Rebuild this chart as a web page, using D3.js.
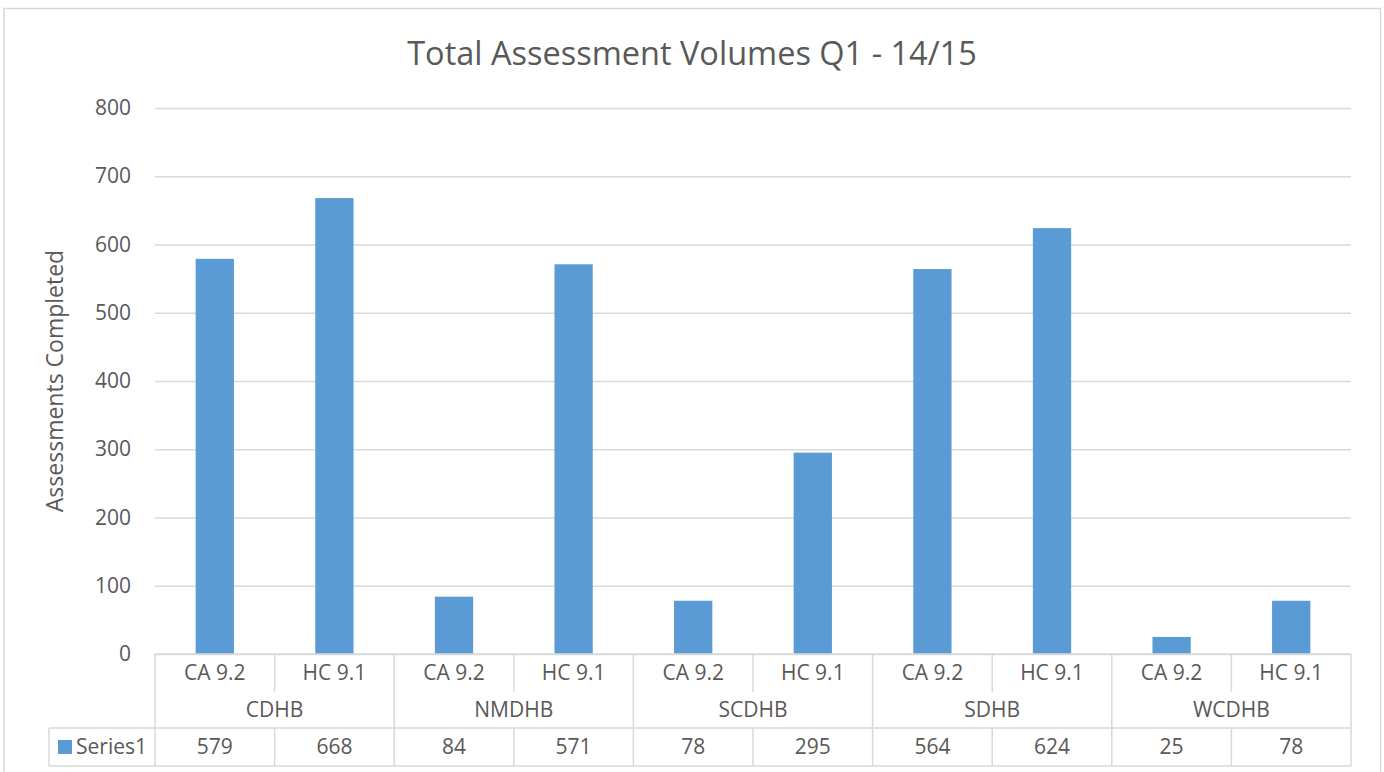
<!DOCTYPE html>
<html>
<head>
<meta charset="utf-8">
<script src="https://cdn.jsdelivr.net/npm/d3@7"></script>
<style>
  html, body { margin: 0; padding: 0; background: #fff; }
  text { font-family: "Open Sans", "Noto Sans", sans-serif; fill: #595959; }
</style>
</head>
<body>
<svg id="chart" width="1384" height="772"></svg>
<script>
// data
var groups = ['CDHB', 'NMDHB', 'SCDHB', 'SDHB', 'WCDHB'];
var subs = ['CA 9.2', 'HC 9.1'];
var series1 = [579, 668, 84, 571, 78, 295, 564, 624, 25, 78];
var yTicks = [0, 100, 200, 300, 400, 500, 600, 700, 800];

var title = 'Total Assessment Volumes Q1 - 14/15';
var yTitle = 'Assessments Completed';
var seriesName = 'Series1';

// layout (avoid "top" - it's window.top)
var plotL = 155, plotR = 1351, plotT = 108, plotB = 654;
var row1 = 692, row2 = 728, row3 = 766;
var lineCol = '#d9d9d9', barCol = '#5b9bd5';
var fs = '21px';

var svg = d3.select('#chart');

// outer chart border
svg.append('rect')
    .attr('x', 4).attr('y', 8.5)
    .attr('width', 1376.5).attr('height', 800)
    .attr('fill', 'none')
    .attr('stroke', lineCol)
    .attr('stroke-width', 1.5);

var rows = [];
groups.forEach((g, gi) => {
    subs.forEach((s, si) => {
        rows.push({ key: g + '|' + s, group: g, sub: s, value: series1[gi * subs.length + si] });
    });
});

var x = d3.scaleBand()
    .domain(rows.map((d) => d.key))
    .range([plotL, plotR])
    .paddingInner(0.68)
    .paddingOuter(0.34);

var xGroup = d3.scaleBand()
    .domain(groups)
    .range([plotL, plotR]);

var y = d3.scaleLinear().domain([0, 800]).range([plotB, plotT]);

// gridlines + y axis labels
var yAxis = d3.axisLeft(y)
    .tickValues(yTicks)
    .tickSize(-(plotR - plotL))
    .tickPadding(24);

var ga = svg.append('g')
    .attr('transform', `translate(${plotL},0)`)
    .call(yAxis);
ga.select('.domain').remove();
ga.selectAll('.tick line').attr('stroke', lineCol).attr('stroke-width', 1.5);
ga.selectAll('.tick text')
    .attr('fill', '#595959')
    .style('font-size', fs)
    .style('font-family', '"Open Sans", sans-serif');

// bars
svg.append('g').selectAll('rect')
    .data(rows)
    .join('rect')
    .attr('x', (d) => x(d.key))
    .attr('width', x.bandwidth())
    .attr('y', (d) => y(d.value))
    .attr('height', (d) => y(0) - y(d.value))
    .attr('fill', barCol);

// category table
var tbl = svg.append('g')
    .attr('stroke', lineCol)
    .attr('stroke-width', 1.5);

var step = x.step();
var cellLeft = (d) => x(d.key) - (step - x.bandwidth()) / 2;

// horizontal lines
tbl.append('line').attr('x1', plotL).attr('x2', plotR).attr('y1', plotB).attr('y2', plotB);
tbl.append('line').attr('x1', 49).attr('x2', plotR).attr('y1', row2).attr('y2', row2);
tbl.append('line').attr('x1', 49).attr('x2', plotR).attr('y1', row3).attr('y2', row3);

// group boundaries
groups.concat(['end']).forEach((g, i) => {
    var gx = i < groups.length ? xGroup(g) : plotR;
    tbl.append('line').attr('x1', gx).attr('x2', gx).attr('y1', plotB).attr('y2', row3);
});
// sub dividers inside groups
rows.forEach((d, i) => {
    if (i % subs.length === 0) return;
    var cx = cellLeft(d);
    tbl.append('line').attr('x1', cx).attr('x2', cx).attr('y1', plotB).attr('y2', row1);
    tbl.append('line').attr('x1', cx).attr('x2', cx).attr('y1', row2).attr('y2', row3);
});
// legend cell left edge
tbl.append('line').attr('x1', 49).attr('x2', 49).attr('y1', row2).attr('y2', row3);

// sub labels
svg.append('g').selectAll('text')
    .data(rows)
    .join('text')
    .attr('x', (d) => x(d.key) + x.bandwidth() / 2)
    .attr('y', (plotB + row1) / 2)
    .attr('dy', '0.35em')
    .attr('text-anchor', 'middle')
    .style('font-size', fs)
    .text((d) => d.sub);

// group labels
svg.append('g').selectAll('text')
    .data(groups)
    .join('text')
    .attr('x', (d) => xGroup(d) + xGroup.bandwidth() / 2)
    .attr('y', (row1 + row2) / 2)
    .attr('dy', '0.35em')
    .attr('text-anchor', 'middle')
    .style('font-size', fs)
    .text((d) => d);

// values row
svg.append('g').selectAll('text')
    .data(rows)
    .join('text')
    .attr('x', (d) => x(d.key) + x.bandwidth() / 2)
    .attr('y', (row2 + row3) / 2)
    .attr('dy', '0.35em')
    .attr('text-anchor', 'middle')
    .style('font-size', fs)
    .text((d) => d.value);

// legend key in table
svg.append('rect')
    .attr('x', 58).attr('y', 740)
    .attr('width', 14).attr('height', 14)
    .attr('fill', barCol);
svg.append('text')
    .attr('x', 76).attr('y', (row2 + row3) / 2)
    .attr('dy', '0.35em')
    .style('font-size', fs)
    .text(seriesName);

// title
svg.append('text')
    .attr('x', 692).attr('y', 54)
    .attr('dy', '0.35em')
    .attr('text-anchor', 'middle')
    .style('font-size', '32.5px')
    .text(title);

// y title
svg.append('text')
    .attr('transform', 'translate(55,381) rotate(-90)')
    .attr('dy', '0.35em')
    .attr('text-anchor', 'middle')
    .style('font-size', '23px')
    .text(yTitle);
</script>
</body>
</html>
